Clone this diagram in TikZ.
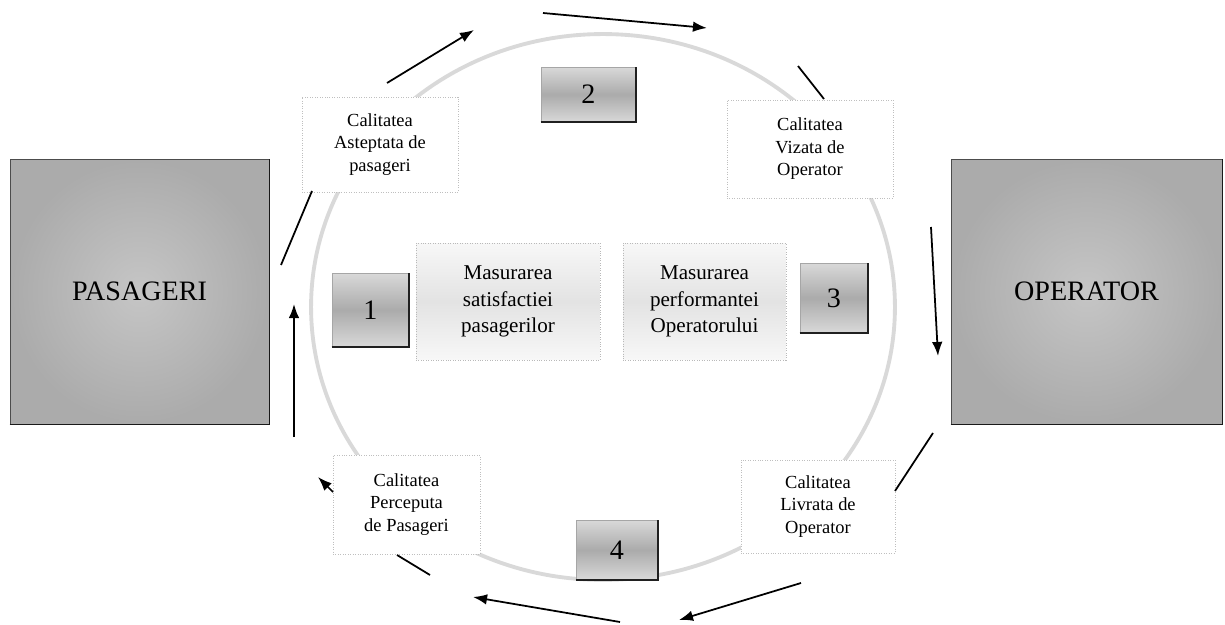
\documentclass[tikz,border=0pt]{standalone}
\usepackage{fontspec}
\setmainfont{Liberation Serif}
\usetikzlibrary{arrows.meta}
\begin{document}
\begin{tikzpicture}[x=0.02cm,y=-0.02cm,
  bigbox/.style={draw=gray!60!black, inner color=gray!45, outer color=gray!66, inner sep=0pt, font=\fontsize{16}{19}\selectfont},
  numbox/.style={draw=gray!70, top color=gray!30, bottom color=gray!30, middle color=gray!66, inner sep=0pt, font=\fontsize{16}{19}\selectfont},
  measbox/.style={draw=gray!55, densely dotted, top color=gray!6, bottom color=gray!6, middle color=gray!22, align=center, inner sep=0pt, font=\fontsize{12}{15}\selectfont},
  qualbox/.style={draw=gray!50, densely dotted, fill=white, align=center, inner sep=0pt, font=\fontsize{10.5}{12.8}\selectfont},
  flow/.style={line width=1pt, -{Latex[length=8pt,width=6pt]}},
  link/.style={line width=1pt, -}]
\useasboundingbox (0,0) rectangle (1225,625);

%circle
\draw[gray!30, line width=2.2pt] (603,307) ellipse [x radius=5.84cm, y radius=5.46cm];

%big boxes
\node[bigbox, minimum width=5.18cm, minimum height=5.3cm] (pas) at (139.5,291.5) {PASAGERI};
\node[bigbox, minimum width=5.42cm, minimum height=5.3cm] (opr) at (1086.5,291.5) {OPERATOR};

%quality boxes
\node[qualbox, minimum width=3.12cm, minimum height=1.9cm] (asp) at (380,144.5) {Calitatea\\Asteptata de\\pasageri};
\node[qualbox, minimum width=3.32cm, minimum height=1.96cm] (viz) at (810,149) {Calitatea\\Vizata de\\Operator};
\node[qualbox, minimum width=2.94cm, minimum height=1.98cm] (per) at (406.5,504.5) {Calitatea\\Perceputa\\de Pasageri};
\node[qualbox, minimum width=3.08cm, minimum height=1.86cm] (liv) at (818,506.5) {Calitatea\\Livrata de\\Operator};

%measuring boxes
\node[measbox, minimum width=3.68cm, minimum height=2.34cm] (msat) at (508,301.5) {Masurarea\\satisfactiei\\pasagerilor};
\node[measbox, minimum width=3.26cm, minimum height=2.34cm] (mperf) at (704.5,301.5) {Masurarea\\performantei\\Operatorului};

%numbers
\node[numbox, minimum width=1.54cm, minimum height=1.48cm] (n1) at (370.5,310) {1};
\node[numbox, minimum width=1.9cm, minimum height=1.1cm] (n2) at (588.5,94.5) {2};
\node[numbox, minimum width=1.36cm, minimum height=1.4cm] (n3) at (834,298) {3};
\node[numbox, minimum width=1.64cm, minimum height=1.2cm] (n4) at (617,550) {4};

%shadow edges
\foreach \b in {n1,n2,n3,n4}
  \draw[line width=1.2pt, gray!25!black] (\b.south west) -- (\b.south east) -- (\b.north east);
\foreach \b in {pas,opr}
  \draw[line width=0.8pt, gray!20!black] (\b.south west) -- (\b.south east) -- (\b.north east);

%arrow ends
\coordinate (s1) at (281,265);   \coordinate (e1) at (312,191);
\coordinate (s2) at (387,83);    \coordinate (e2) at (474,30);
\coordinate (s3) at (543,13);    \coordinate (e3) at (707,28);
\coordinate (s4) at (798,66);    \coordinate (e4) at (824,99);
\coordinate (s5) at (931,227);   \coordinate (e5) at (938,356);
\coordinate (s6) at (933,433);   \coordinate (e6) at (895,491);
\coordinate (s7) at (801,583);   \coordinate (e7) at (679,620);
\coordinate (s8) at (620,622);   \coordinate (e8) at (473,597);
\coordinate (s9) at (430,575);   \coordinate (e9) at (397,555);
\coordinate (s10) at (333,492);  \coordinate (e10) at (318,477);
\coordinate (s11) at (294,437);  \coordinate (e11) at (294,304);

%lines
\draw[link] (s1) -- (e1);
\draw[link] (s4) -- (e4);
\draw[link] (s6) -- (e6);
\draw[link] (s9) -- (e9);

%arrows
\draw[flow] (s2) -- (e2);
\draw[flow] (s3) -- (e3);
\draw[flow] (s5) -- (e5);
\draw[flow] (s7) -- (e7);
\draw[flow] (s8) -- (e8);
\draw[flow] (s10) -- (e10);
\draw[flow] (s11) -- (e11);

\end{tikzpicture}
\end{document}
